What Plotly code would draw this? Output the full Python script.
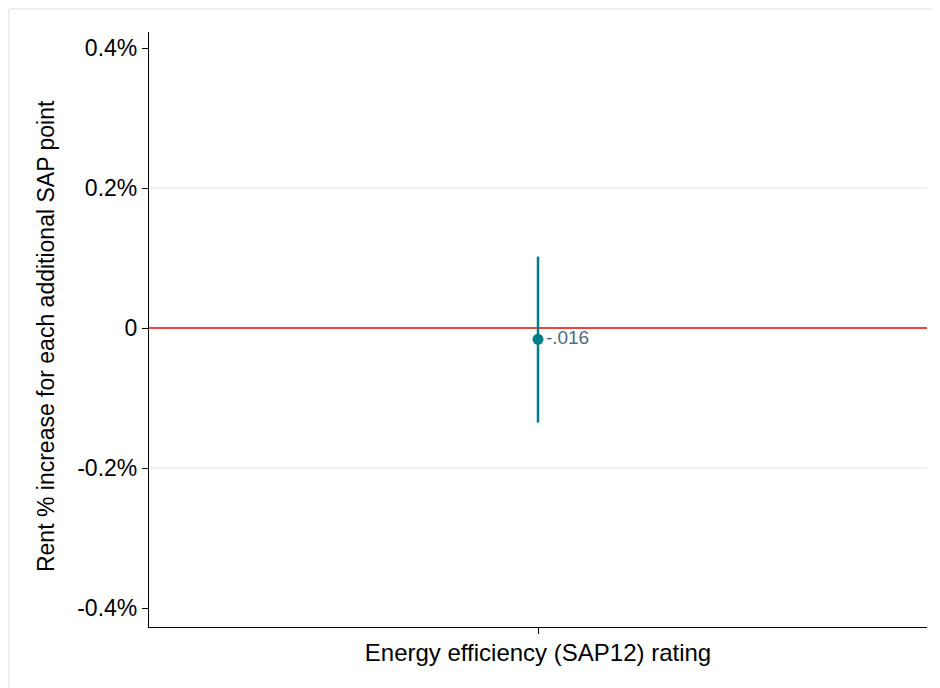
import plotly.graph_objects as go

categories = ["Energy efficiency (SAP12) rating"]
estimates = [-0.016]
ci_upper = [0.102]
ci_lower = [-0.135]
point_labels = ["-.016"]
y_tickvals = [0.4, 0.2, 0, -0.2, -0.4]
y_ticktext = ["0.4%", "0.2%", "0", "-0.2%", "-0.4%"]
grid_vals = [0.2, -0.2]
ref_value = 0
y_title = "Rent % increase for each additional SAP point"

x_pos = [1]

teal = "#007d87"
fig = go.Figure()

fig.add_trace(go.Scatter(
    x=x_pos, y=estimates,
    mode="markers+text",
    marker=dict(color=teal, size=11),
    text=point_labels,
    textposition="middle right",
    textfont=dict(family="Liberation Sans, Arial", size=19, color="#4f6a86"),
    error_y=dict(type="data", symmetric=False,
                 array=[u - e for u, e in zip(ci_upper, estimates)],
                 arrayminus=[e - l for l, e in zip(ci_lower, estimates)],
                 color=teal, thickness=2.5, width=0),
    showlegend=False,
    cliponaxis=False,
))

shapes = []
for g in grid_vals:
    shapes.append(dict(type="line", xref="paper", yref="y", x0=0, x1=1, y0=g, y1=g,
                       line=dict(color="#e6edf0", width=1.5), layer="below"))
shapes.append(dict(type="line", xref="paper", yref="y", x0=0, x1=1, y0=ref_value, y1=ref_value,
                   line=dict(color="#e8463c", width=2), layer="below"))
# outer light frame lines (top and left)
shapes.append(dict(type="line", xref="paper", yref="paper", x0=-0.18, x1=1.03, y0=1.039, y1=1.039,
                   line=dict(color="#e8eef1", width=2)))
shapes.append(dict(type="line", xref="paper", yref="paper", x0=-0.1805, x1=-0.1805, y0=-0.12, y1=1.039,
                   line=dict(color="#e8eef1", width=2)))

fig.update_layout(
    width=940, height=688,
    margin=dict(l=141, r=21, t=24, b=69),
    paper_bgcolor="white", plot_bgcolor="white",
    font=dict(family="Liberation Sans, Arial", size=23, color="black"),
    shapes=shapes,
    annotations=[dict(text=y_title, xref="paper", yref="paper", x=-0.1324, y=0.489,
                      xanchor="center", yanchor="middle", textangle=-90, showarrow=False,
                      font=dict(size=23, color="black"))],
    xaxis=dict(range=[0, 2], tickvals=x_pos, ticktext=[""], ticks="outside", ticklen=6,
               tickcolor="black", showline=True, linecolor="black", linewidth=1.2,
               showgrid=False, zeroline=False,
               title=dict(text=categories[0], font=dict(size=24), standoff=6)),
    yaxis=dict(range=[-0.427, 0.423], tickvals=y_tickvals, ticktext=y_ticktext,
               ticks="outside", ticklen=6, tickcolor="black", showline=True,
               linecolor="black", linewidth=1.2, showgrid=False, zeroline=False,
               tickfont=dict(size=23)),
)

fig.write_html("out.html")
